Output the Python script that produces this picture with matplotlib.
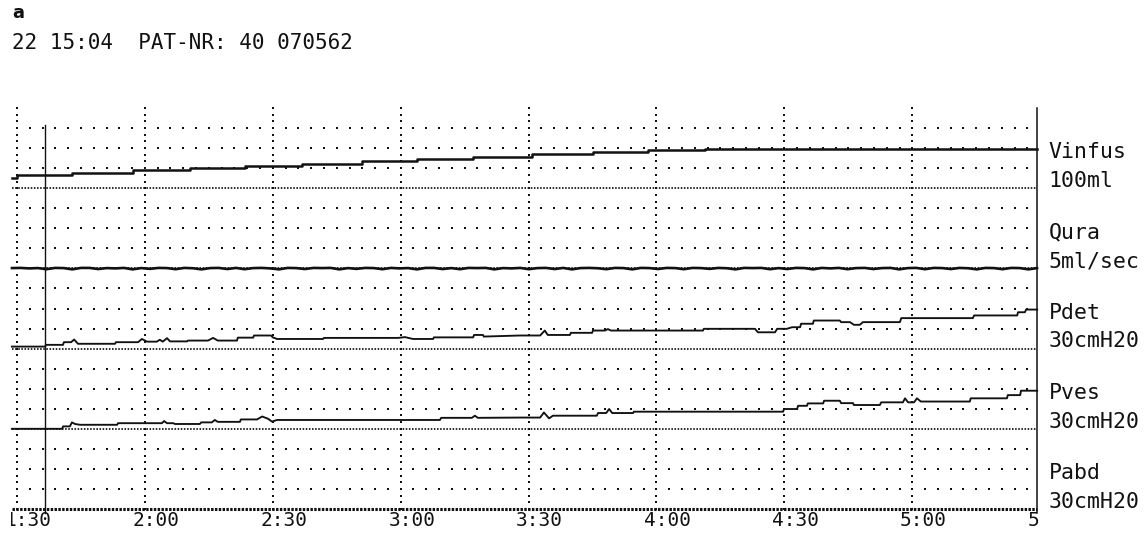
import numpy as np
import matplotlib
matplotlib.use('Agg')
import matplotlib.pyplot as plt
from matplotlib.transforms import Bbox, blended_transform_factory

# ---------------- data (seconds / physical units) ----------------
tick_seconds = [90, 120, 150, 180, 210, 240, 270, 300, 330]
tick_labels = ["1:30", "2:00", "2:30", "3:00", "3:30", "4:00", "4:30", "5:00", "5:30"]

channel_names = ["Vinfus", "Qura", "Pdet", "Pves", "Pabd"]
channel_scales_txt = ["100ml", "5ml/sec", "30cmH20", "30cmH20", "30cmH20"]
channel_full_scale = [100.0, 5.0, 30.0, 30.0, 30.0]

vinfus_t = [88.8, 90.0, 97.0, 102.9, 117.2, 130.6, 143.5, 156.9, 170.9, 183.8,
            197.0, 210.8, 225.1, 238.0, 251.4, 329.3]
vinfus_v = [12.9, 16.3, 16.9, 19.1, 22.5, 24.6, 27.5, 30.0, 33.8, 36.3,
            39.1, 42.1, 44.6, 47.1, 48.8, 48.8]

qura_v = [0.02, 0.03, 0.0, 0.02, -0.05, 0.03, 0.02, -0.06, 0.03, 0.03, -0.04, 0.02,
          0.0, 0.03, -0.06, 0.02, -0.03, 0.03, 0.02, -0.05, 0.03, 0.01, -0.06, 0.02,
          0.03, -0.04, 0.03, -0.05, 0.02, 0.03, 0.0, -0.06, 0.03, 0.02, -0.04, 0.03,
          0.02, 0.03, -0.06, 0.02, -0.03, 0.03, 0.02, -0.05, 0.03, 0.0, 0.02, -0.06,
          0.03, 0.03, -0.04, 0.02, -0.05, 0.03, 0.02, 0.03, -0.06, 0.02, 0.0, 0.03,
          -0.05, 0.02, 0.03, -0.04, 0.03, -0.06, 0.02, 0.03, 0.01, -0.05, 0.03, 0.02,
          -0.06, 0.03, 0.02, -0.04, 0.03, 0.02, -0.05, 0.03, 0.02, -0.03, 0.03, 0.01,
          -0.06, 0.03, 0.02, 0.03, -0.05, 0.02, -0.04, 0.03, 0.02, -0.06, 0.03, 0.0,
          0.03, -0.05, 0.02, 0.03, -0.04, 0.02, 0.03, -0.06, 0.02, 0.03, -0.05, 0.03,
          0.02, -0.04, 0.03, 0.01, -0.06, 0.03, 0.02, -0.05, 0.03, 0.02, -0.06, 0.02]

pdet_t = [88.8, 96.6, 96.8, 100.8, 101.0, 102.7, 103.4, 104.3, 106.0, 113.0,
          113.2, 118.4, 119.3, 120.5, 122.8, 123.5, 124.2, 125.2, 125.9, 129.9,
          130.1, 134.8, 136.0, 137.1, 141.6, 141.8, 145.4, 145.6, 149.6, 150.0,
          151.0, 161.8, 162.0, 179.4, 181.0, 182.9, 187.6, 187.8, 197.0, 197.2,
          199.3, 199.5, 208.0, 212.7, 213.8, 214.5, 219.7, 219.9, 224.9, 225.1,
          227.9, 228.6, 229.3, 250.9, 251.1, 263.1, 263.8, 267.8, 268.3, 270.6,
          271.8, 273.7, 273.9, 276.7, 276.9, 283.0, 283.3, 285.4, 286.3, 287.7,
          288.4, 297.1, 297.4, 314.2, 314.5, 324.6, 324.8, 326.4, 326.7, 329.3]
pdet_v = [0.75, 0.75, 1.4, 1.4, 2.4, 2.4, 3.4, 1.8, 1.8, 1.8,
          2.4, 2.4, 3.6, 2.6, 2.6, 3.3, 2.6, 3.9, 2.7, 2.7,
          3.0, 3.0, 4.0, 3.0, 3.0, 4.1, 4.1, 4.9, 4.9, 4.2,
          3.6, 3.6, 4.0, 4.0, 4.3, 3.6, 3.6, 4.2, 4.2, 5.1,
          5.1, 4.5, 4.9, 4.9, 6.75, 5.1, 5.1, 5.9, 5.9, 6.75,
          6.75, 7.3, 6.75, 6.75, 7.4, 7.4, 6.1, 6.1, 7.4, 7.4,
          8.0, 8.0, 9.3, 9.3, 10.5, 10.5, 9.9, 9.9, 8.9, 8.9,
          9.9, 9.9, 11.4, 11.4, 12.4, 12.4, 13.6, 13.6, 14.6, 14.6]

pves_t = [88.8, 100.6, 100.8, 102.4, 102.9, 103.6, 104.8, 113.5, 113.7, 124.0,
          124.5, 125.2, 126.6, 127.1, 132.9, 133.2, 135.7, 136.4, 137.1, 142.3,
          142.5, 146.3, 147.5, 148.9, 149.8, 151.0, 189.2, 189.5, 196.7, 197.4,
          198.1, 208.0, 212.7, 213.6, 214.8, 215.7, 226.0, 226.3, 228.2, 228.9,
          229.6, 234.5, 234.7, 269.7, 269.9, 273.0, 273.2, 275.3, 275.5, 279.1,
          279.3, 283.0, 283.3, 286.1, 286.3, 292.4, 292.7, 297.8, 298.3, 299.0,
          300.4, 301.1, 302.0, 313.5, 313.7, 322.2, 322.4, 325.3, 325.5, 329.3]
pves_v = [0.0, 0.0, 0.9, 0.9, 2.4, 1.8, 1.5, 1.5, 2.1, 2.1,
          2.9, 2.1, 2.1, 1.8, 1.8, 2.4, 2.4, 3.3, 2.6, 2.6,
          3.5, 3.5, 4.6, 3.75, 2.7, 3.3, 3.3, 4.1, 4.1, 4.9,
          4.1, 4.2, 4.2, 6.1, 3.9, 4.9, 4.9, 5.9, 5.9, 7.4,
          5.9, 5.9, 6.4, 6.4, 7.4, 7.4, 8.6, 8.6, 9.5, 9.5,
          10.5, 10.5, 9.6, 9.6, 8.9, 8.9, 9.9, 9.9, 11.4, 9.9,
          9.9, 11.4, 10.2, 10.2, 11.4, 11.4, 12.6, 12.6, 14.25, 14.25]

pabd_t = [88.8, 329.3]
pabd_v = [0.0, 0.0]

cursor_t = 96.6
header_text = "22 15:04  PAT-NR: 40 070562"
panel_letter = "a"

# ---------------- figure layout ----------------
W, H = 1147, 539
fig = plt.figure(figsize=(W / 100, H / 100), dpi=100)
fig.patch.set_facecolor('white')
L, R, TOP, BOT = 12, 1037, 108, 509
ax = fig.add_axes([L / W, (H - BOT) / H, (R - L) / W, (BOT - TOP) / H])
T0, T1 = 88.83, 329.25
ax.set_xlim(T0, T1)
ax.set_ylim(0, 5)
ax.axis('off')

MONO = 'DejaVu Sans Mono'
INK = '#111111'
n_ch = len(channel_names)
bases = [n_ch - 1 - i for i in range(n_ch)]  # Vinfus top

# grid: sparse dotted rows
dot_t = np.arange(90, T1 + 0.01, 3.0)
for b in range(n_ch):
    for frac in (0.25, 0.5, 0.75):
        ax.scatter(dot_t, np.full(dot_t.shape, b + frac), s=2.3, marker='s',
                   color=INK, linewidths=0, clip_on=False, zorder=1)
# vertical dotted gridlines
vy = np.arange(0, 5.0001, 1 / 12)
for ts in tick_seconds:
    if ts < T1:
        ax.scatter(np.full(vy.shape, ts), vy, s=2.3, marker='s', color=INK,
                   linewidths=0, clip_on=False, zorder=1)
# dense dotted channel baselines
for b in range(1, n_ch):
    ax.plot([T0, T1], [b, b], color=INK, lw=1.25, linestyle=(0, (0.9, 0.9)),
            clip_on=False, zorder=1)

# traces
def y_of(vals, idx):
    return bases[idx] + np.asarray(vals) / channel_full_scale[idx]

ax.plot(vinfus_t, y_of(vinfus_v, 0), drawstyle='steps-post', color=INK, lw=1.8,
        clip_on=False, zorder=3)
qura_t = np.linspace(T0, T1, len(qura_v))
ax.plot(qura_t, y_of(qura_v, 1), color=INK, lw=1.9, clip_on=False, zorder=3)
ax.plot(pdet_t, y_of(pdet_v, 2), color=INK, lw=1.35, clip_on=False, zorder=3)
ax.plot(pves_t, y_of(pves_v, 3), color=INK, lw=1.35, clip_on=False, zorder=3)
ax.plot(pabd_t, y_of(pabd_v, 4), color=INK, lw=2.2, linestyle=(0, (0.8, 0.45)),
        clip_on=False, zorder=3)

# cursor & right border
ax.axvline(cursor_t, ymin=-0.01, ymax=0.958, color=INK, lw=1.0, clip_on=False, zorder=4)
ax.axvline(T1, ymin=-0.01, ymax=1.0, color=INK, lw=1.1, clip_on=False, zorder=4)

# right-hand channel labels
for i, (nm, sc) in enumerate(zip(channel_names, channel_scales_txt)):
    b = bases[i]
    ax.text(T1 + 2.7, b + 0.375, nm, family=MONO, fontsize=15.5, color=INK,
            ha='left', va='baseline', clip_on=False)
    ax.text(T1 + 2.7, b + 0.015, sc, family=MONO, fontsize=15.5, color=INK,
            ha='left', va='baseline', clip_on=False)

# time tick labels (clipped at the chart edges)
blend = blended_transform_factory(ax.transData, ax.transAxes)
clip = Bbox.from_extents(11, 0, 1040, H)
for ts, lab in zip(tick_seconds, tick_labels):
    txt = ax.text(ts - 2.9, -0.006, lab, transform=blend, family=MONO, fontsize=14,
                  color=INK, ha='left', va='top')
    txt.set_clip_path(None)
    txt.set_clip_box(clip)
    txt.set_clip_on(True)

# header
fig.text(12 / W, 1 - 43 / H, header_text, family=MONO, fontsize=15, color=INK,
         ha='left', va='center')
fig.text(12 / W, 1 - 13 / H, panel_letter, family='DejaVu Sans', fontweight='bold',
         fontsize=13, color=INK, ha='left', va='center')

fig.savefig('out.png', dpi=100, facecolor='white')
